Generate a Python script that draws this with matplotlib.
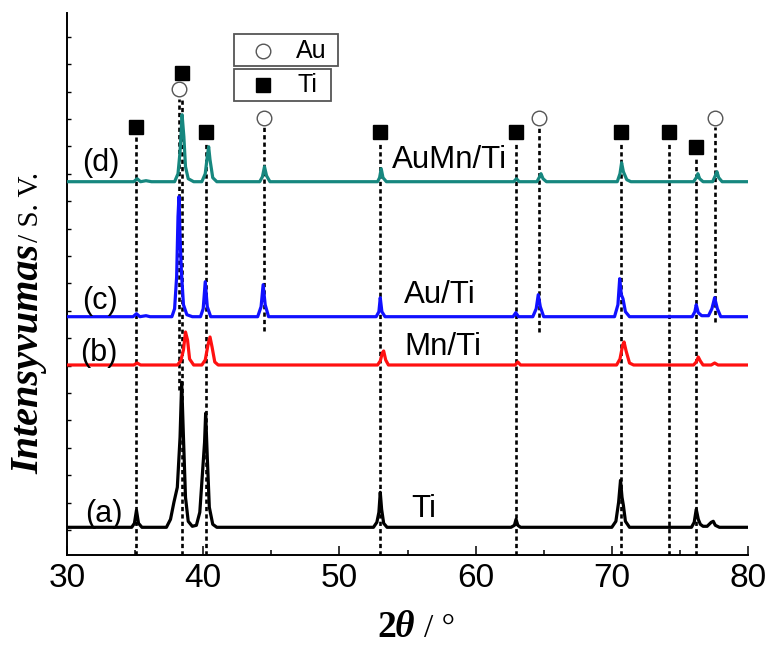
import numpy as np
import matplotlib
matplotlib.use("Agg")
import matplotlib.pyplot as plt
from matplotlib.patches import Rectangle

# ---------------- data (2theta in degrees, intensity in arbitrary units above each baseline)
x_a = [30, 34.75, 34.95, 35.1, 35.25, 35.5, 37.3, 37.6, 37.85, 38.1, 38.3, 38.42, 38.55, 38.7, 38.9,
       39.2, 39.5, 39.75, 39.95, 40.1, 40.18, 40.3, 40.45, 40.7, 41.0, 52.5, 52.75, 52.9, 53.0, 53.1,
       53.25, 53.5, 62.6, 62.85, 62.97, 63.1, 63.3, 70.0, 70.3, 70.5, 70.64, 70.75, 70.85, 71.0, 71.3,
       75.85, 76.05, 76.2, 76.35, 76.5, 76.7, 77.0, 77.3, 77.45, 77.6, 77.9, 80]
y_a = [0, 0, 4, 17, 4, 0, 0, 8, 25, 40, 90, 145, 90, 30, 6,
       1, 2, 15, 55, 85, 114, 70, 20, 3, 0, 0, 5, 15, 35, 18,
       4, 0, 0, 2, 8, 2, 0, 0, 6, 25, 47, 30, 22, 6, 0,
       0, 5, 18, 8, 3, 1, 1, 5, 6, 2, 0, 0]

x_b = [30, 34.9, 35.15, 35.4, 38.1, 38.35, 38.55, 38.7, 38.85, 39.0, 39.3, 39.9, 40.15, 40.35, 40.5,
       40.65, 40.85, 41.1, 52.8, 53.0, 53.15, 53.25, 53.4, 53.6, 62.9, 63.1, 63.3, 70.35, 70.6, 70.8,
       70.9, 71.05, 71.3, 71.6, 76.0, 76.2, 76.35, 76.5, 76.7, 77.3, 77.55, 77.8, 80]
y_b = [0, 0, 2, 0, 0, 4, 15, 33, 25, 6, 0, 0, 5, 20, 28,
       18, 3, 0, 0, 4, 12, 14, 5, 0, 0, 3, 0, 0, 6, 20,
       23, 14, 2, 0, 0, 3, 8, 4, 0, 0, 2, 0, 0]

x_c = [30, 34.85, 35.1, 35.35, 35.8, 36.1, 37.7, 37.9, 38.05, 38.15, 38.22, 38.3, 38.4, 38.55, 38.8,
       39.2, 39.8, 40.0, 40.15, 40.3, 40.55, 44.0, 44.25, 44.4, 44.55, 44.8, 52.7, 52.9, 53.0, 53.12,
       53.35, 62.75, 62.95, 63.15, 64.2, 64.45, 64.6, 64.75, 65.0, 70.2, 70.45, 70.58, 70.7, 70.82, 71.0,
       71.3, 75.9, 76.1, 76.2, 76.35, 76.6, 77.1, 77.35, 77.55, 77.75, 78.0, 80]
y_c = [0, 0, 3, 0, 1, 0, 0, 8, 40, 100, 120, 80, 45, 12, 2,
       0, 0, 8, 35, 10, 0, 0, 10, 32, 12, 0, 0, 5, 19, 5,
       0, 0, 4, 0, 0, 8, 22, 10, 0, 0, 12, 38, 22, 18, 5,
       0, 0, 5, 12, 4, 1, 1, 8, 19, 8, 0, 0]

x_d = [30, 34.9, 35.15, 35.4, 35.8, 36.2, 37.9, 38.15, 38.3, 38.45, 38.58, 38.7, 38.9, 39.3, 39.9,
       40.15, 40.3, 40.4, 40.5, 40.7, 41.0, 44.15, 44.35, 44.5, 44.65, 44.9, 52.8, 52.95, 53.07, 53.2,
       53.45, 62.8, 63.0, 63.2, 64.5, 64.7, 64.8, 64.95, 65.2, 70.4, 70.6, 70.72, 70.85, 71.1, 71.4,
       76.0, 76.2, 76.32, 76.45, 76.7, 77.4, 77.6, 77.72, 77.85, 78.1, 80]
y_d = [0, 0, 3, 0, 1, 0, 0, 8, 30, 67, 45, 15, 3, 0, 0,
       8, 25, 35, 22, 4, 0, 0, 5, 15, 6, 0, 0, 4, 13, 4,
       0, 0, 3, 0, 0, 5, 8, 3, 0, 0, 8, 19, 10, 2, 0,
       0, 4, 8, 3, 0, 0, 6, 10, 4, 0, 0]

offsets = {"a": 27.7, "b": 190, "c": 238.3, "d": 373.3}
curve_tags = ["(a)", "(b)", "(c)", "(d)"]
curve_names = ["Ti", "Mn/Ti", "Au/Ti", "AuMn/Ti"]

# reference peak positions
ti_peaks = [35.1, 38.42, 40.18, 53.0, 63.0, 70.66, 74.2, 76.2]
ti_mark_y = [428, 482, 423, 423, 423, 423, 423, 408]
ti_line_top = [418, 456, 413, 413, 413, 413, 413, 398]
au_peaks = [38.25, 44.45, 64.62, 77.6]
au_mark_y = [466, 437, 437, 437]
au_line_top = [456, 428, 428, 428]
au_line_bot = [165, 224, 223, 233]

# ---------------- figure
W, H = 768, 647
fig = plt.figure(figsize=(W / 100, H / 100), dpi=100)
L, R, B, T = 67, 748, 555, 13
ax = fig.add_axes([L / W, (H - B) / H, (R - L) / W, (B - T) / H])
ax.set_xlim(30, 80)
ax.set_ylim(0, B - T)

colors = ["#000000", "#ff1010", "#1010ff", "#16877f"]
series = [(x_a, y_a, offsets["a"]), (x_b, y_b, offsets["b"]),
          (x_c, y_c, offsets["c"]), (x_d, y_d, offsets["d"])]
for (xs, ys, off), c in zip(series, colors):
    ax.plot(xs, np.array(ys) + off, color=c, lw=2.3, solid_joinstyle="round", zorder=3)

dash = (0, (1.6, 1.2))
for x, top in zip(ti_peaks, ti_line_top):
    ax.plot([x, x], [0, top], color="black", lw=1.9, linestyle=dash, zorder=2)
for x, top, bot in zip(au_peaks, au_line_top, au_line_bot):
    ax.plot([x, x], [bot, top], color="black", lw=1.9, linestyle=dash, zorder=2)

ax.plot(ti_peaks, ti_mark_y, linestyle="none", marker="s", ms=10.5, mfc="black", mec="black", zorder=5)
ax.plot(au_peaks, au_mark_y, linestyle="none", marker="o", ms=10.5, mfc="white", mec="#555555",
        mew=1.0, zorder=5)

# curve labels
def px2x(px):
    return (px - L) / (R - L) * 50 + 30

def py2y(py):
    return B - py

sans = "Liberation Sans"
tag_pos = [(85, 522), (80, 361), (82, 309), (82, 171)]
for t, (px, py) in zip(curve_tags, tag_pos):
    ax.text(px2x(px), py2y(py), t, fontsize=22, family=sans, ha="left", va="baseline", zorder=6)
name_pos = [(411, 517), (404, 355), (404, 303), (392, 168)]
for t, (px, py) in zip(curve_names, name_pos):
    ax.text(px2x(px), py2y(py), t, fontsize=22.5, family=sans, ha="left", va="baseline", zorder=6)

# legend boxes
def fx(px):
    return (px - L) / (R - L)

def fy(py):
    return (B - py) / (B - T)

for (x0, y0, x1, y1) in [(234, 34, 338, 66), (234, 69, 331, 101)]:
    ax.add_patch(Rectangle((fx(x0), fy(y1)), fx(x1) - fx(x0), fy(y0) - fy(y1),
                           transform=ax.transAxes, fill=False, ec="#555555", lw=1.3,
                           clip_on=False, zorder=6))
ax.plot([fx(263)], [fy(51)], transform=ax.transAxes, marker="o", ms=10.5, mfc="white",
        mec="#555555", mew=1.0, clip_on=False, zorder=7)
ax.plot([fx(263)], [fy(85)], transform=ax.transAxes, marker="s", ms=9.5, mfc="black",
        mec="black", clip_on=False, zorder=7)
ax.text(fx(296), fy(51), "Au", transform=ax.transAxes, fontsize=18, family=sans,
        ha="left", va="center", zorder=7)
ax.text(fx(297), fy(85), "Ti", transform=ax.transAxes, fontsize=18, family=sans,
        ha="left", va="center", zorder=7)

# axes styling
for s in ["top", "right"]:
    ax.spines[s].set_visible(False)
for s in ["left", "bottom"]:
    ax.spines[s].set_linewidth(1.4)
ax.set_xticks([30, 40, 50, 60, 70, 80])
ax.set_xticks([35, 45, 55, 65, 75], minor=True)
ax.tick_params(axis="x", which="major", direction="in", length=6.5, width=1.1, pad=6,
               labelsize=24)
ax.tick_params(axis="x", which="minor", direction="in", length=3.4, width=1.1)
for lab in ax.get_xticklabels():
    lab.set_family(sans)
ax.set_yticks(np.arange(25, 530, 27.4))
ax.tick_params(axis="y", which="major", direction="in", length=3, width=1.0, labelleft=False)

# axis labels
serif = "Liberation Serif"
xb = (H - 637) / H
fig.text(377 / W, xb, "2", fontsize=27, family=serif, fontweight="bold",
         ha="left", va="baseline")
fig.text(395 / W, xb, "\u03b8", fontsize=27, family=serif, fontweight="bold",
         style="italic", ha="left", va="baseline")
fig.text(424 / W, xb, "/ \u00b0", fontsize=24, family=serif,
         ha="left", va="baseline")

fig.text(38 / W, (H - 474) / H, "Intensyvumas", fontsize=29, family=serif, fontweight="bold",
         style="italic", rotation=90, rotation_mode="anchor", ha="left", va="baseline")
fig.text(38 / W, (H - 242) / H, "/ S. V.", fontsize=21, family=serif,
         rotation=90, rotation_mode="anchor", ha="left", va="baseline")

fig.savefig("out.png", dpi=100)
